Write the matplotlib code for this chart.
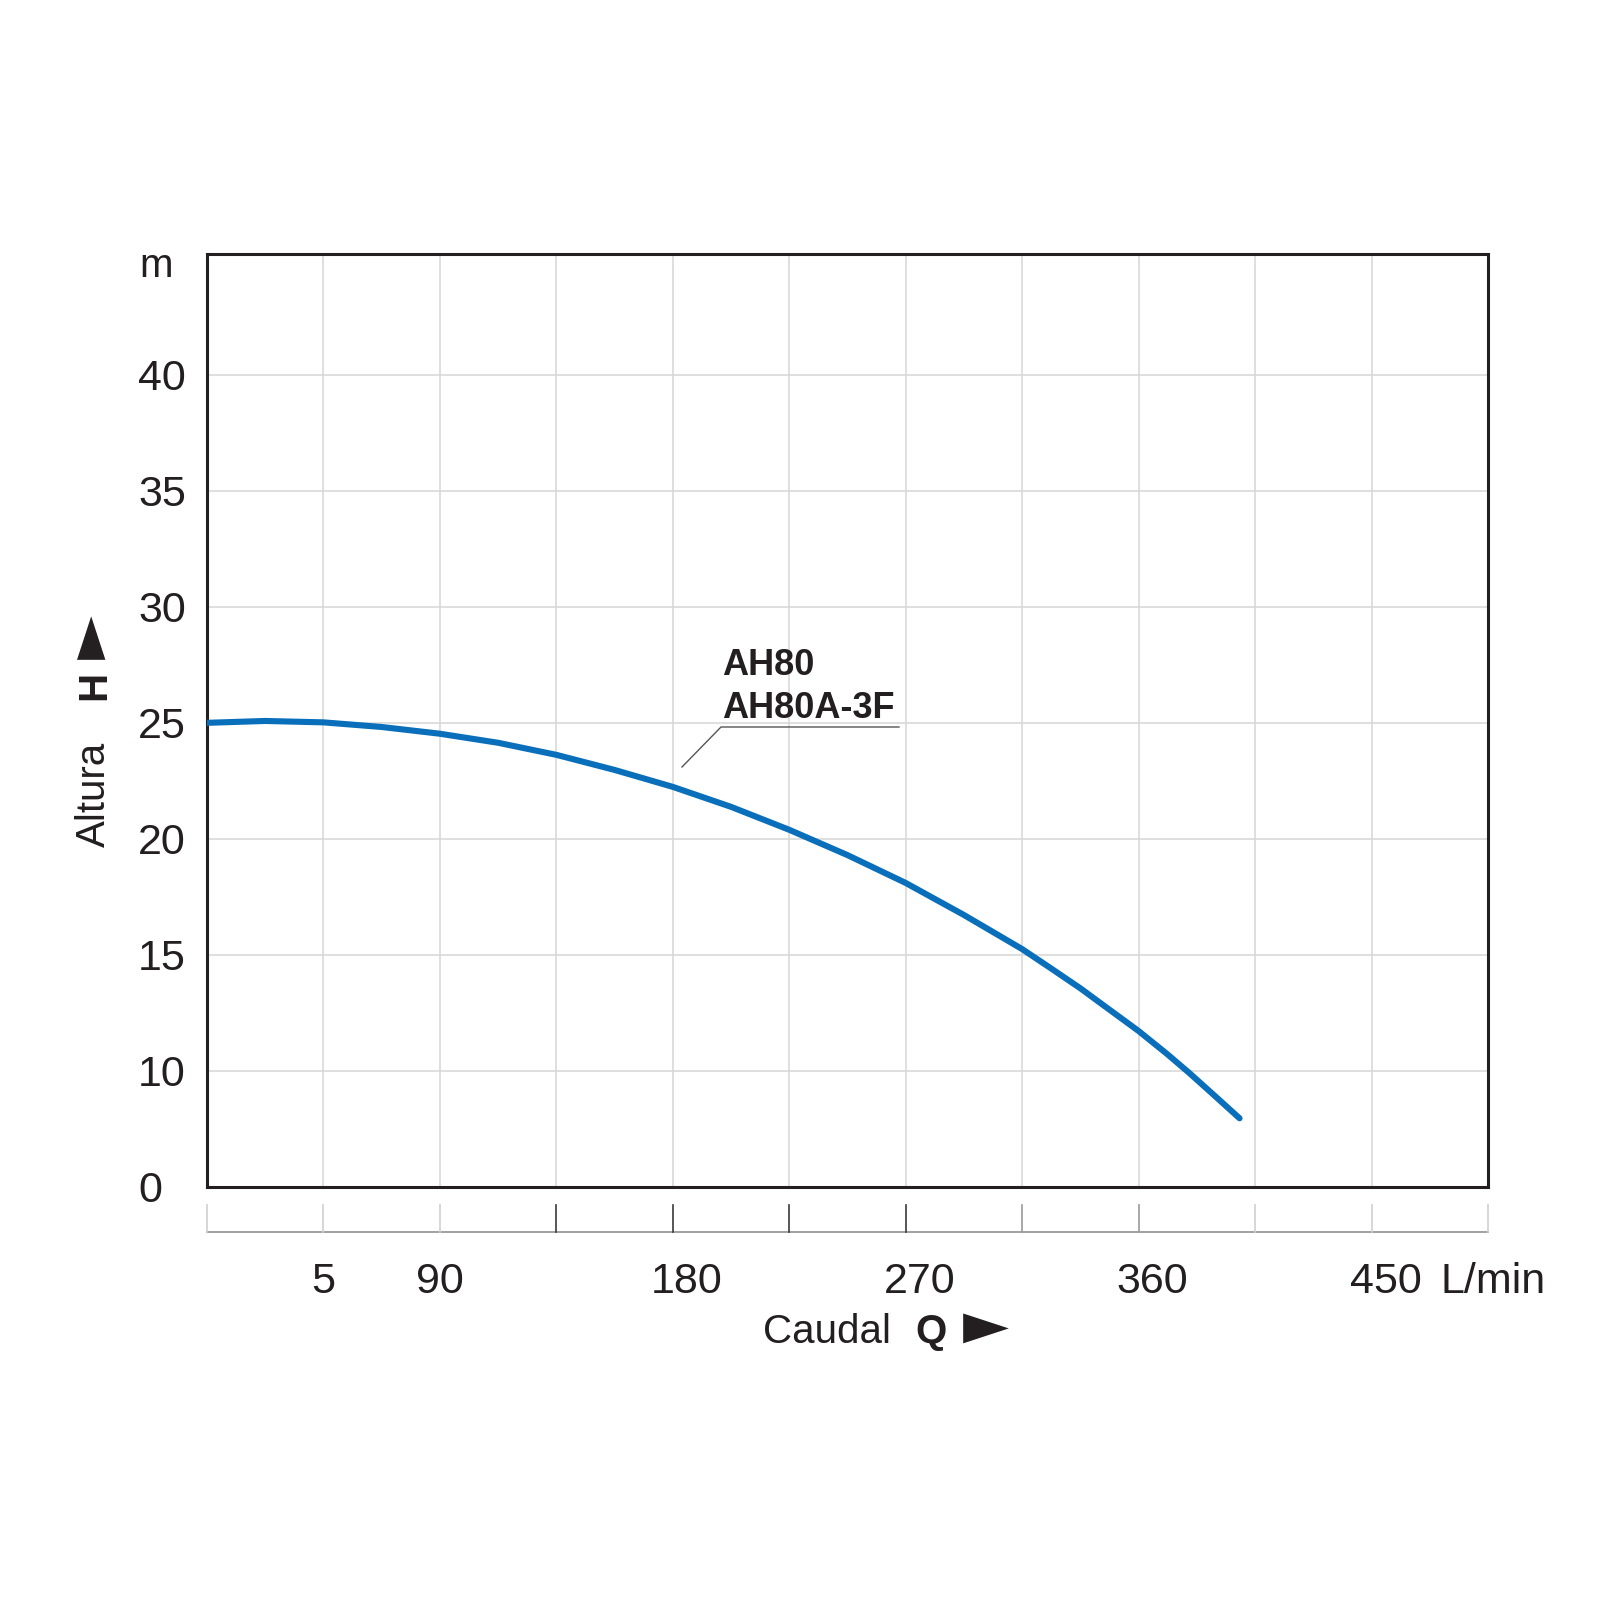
import matplotlib
matplotlib.use("Agg")
import matplotlib.pyplot as plt
import matplotlib.transforms as mtransforms
from matplotlib.lines import Line2D

# pump curve AH80 / AH80A-3F
flow = [0, 22.5, 45, 67.5, 90, 112.5, 135, 157.5, 180, 202.5, 225,
        247.5, 270, 292.5, 315, 326, 337.5, 348, 360, 371, 379.4, 389, 399]
head = [25.0, 25.08, 25.02, 24.82, 24.53, 24.14, 23.62, 22.97, 22.24, 21.38, 20.39,
        19.3, 18.1, 16.72, 15.25, 14.43, 13.56, 12.7, 11.72, 10.73, 9.93, 8.97, 7.96]

y_ticks = [5, 10, 15, 20, 25, 30, 35, 40]
y_labels = ["0", "10", "15", "20", "25", "30", "35", "40"]
x_ticks = [45, 90, 180, 270, 360, 450]
x_labels = ["5", "90", "180", "270", "360", "450"]
scale_ticks = [0, 45, 90, 135, 180, 225, 270, 315, 360, 405, 450, 495]
model_names = ["AH80", "AH80A-3F"]

SIZE = 1600
INK = "#231f20"
BLUE = "#0a6fbb"
FONT = "Liberation Sans"


def fx(px):
    # pixel x -> figure fraction
    return px / SIZE


def fy(py):
    # pixel y (from top) -> figure fraction
    return 1 - py / SIZE


plt.rcParams['font.family'] = [FONT, 'DejaVu Sans']

fig = plt.figure(figsize=(16, 16), dpi=100)
fig.patch.set_facecolor("white")

left, top, right, bottom = 207, 254, 1488, 1187
ax = fig.add_axes([fx(left), fy(bottom), (right - left) / SIZE, (bottom - top) / SIZE])
ax.set_xlim(0, 495)
ax.set_ylim(5, 45.2)

# grid
ax.set_xticks(scale_ticks[1:-1])
ax.set_xticklabels([])
ax.set_yticks(y_ticks)
ax.set_yticklabels(y_labels, fontsize=31, color=INK, ha='left')
ax.tick_params(axis='both', length=0)
ax.tick_params(axis='y', pad=(left - 138) * 0.72)
ax.grid(True, color="#d6d6d6", linewidth=1.1)
ax.set_axisbelow(True)
for sp in ax.spines.values():
    sp.set_color(INK)
    sp.set_linewidth(2.2)

# the curve
ax.plot(flow, head, color=BLUE, linewidth=4.4, solid_capstyle='round',
        solid_joinstyle='round', zorder=3)

# separate flow scale under the box
trans = mtransforms.blended_transform_factory(ax.transData, ax.transAxes)
axis_h = (bottom - 1232) / (bottom - top)
tick_h = (bottom - 1205) / (bottom - top)
ax.plot([scale_ticks[0], scale_ticks[-1]], [axis_h, axis_h], transform=trans,
        color="#9a9a9a", linewidth=1.3, clip_on=False)
dark = {135, 180, 225, 270}
mid = {315, 360}
for q in scale_ticks:
    c = "#3a3a3a" if q in dark else ("#9a9a9a" if q in mid else "#cfcfcf")
    ax.plot([q, q], [axis_h, tick_h], transform=trans, color=c,
            linewidth=1.2, clip_on=False)

label_h = (bottom - 1293) / (bottom - top)
shift = mtransforms.ScaledTranslation(14 / 100, 0, fig.dpi_scale_trans)
for q, lab in zip(x_ticks, x_labels):
    tr = trans + shift if q >= 180 else trans
    ax.text(q, label_h, lab, transform=tr, ha='center', va='baseline',
            fontsize=31, color=INK)

fig.text(fx(1441), fy(1293), "L/min", ha='left', va='baseline', fontsize=31, color=INK)
fig.text(fx(763), fy(1343), "Caudal", ha='left', va='baseline', fontsize=29, color=INK)
fig.text(fx(915), fy(1343), "Q", ha='left', va='baseline', fontsize=29,
         fontweight='bold', color=INK)
fig.text(fx(986), fy(1327), "\u25ba", ha='center', va='center', fontsize=43,
         family='DejaVu Sans', color=INK)

# y title, rotated
fig.text(fx(105), fy(847), "Altura", rotation=90, rotation_mode='anchor',
         ha='left', va='baseline', fontsize=29, color=INK)
fig.text(fx(105), fy(700), "H", rotation=90, rotation_mode='anchor',
         ha='left', va='baseline', fontsize=29, fontweight='bold', color=INK)
fig.text(fx(91), fy(637), "\u25ba", rotation=90, rotation_mode='anchor',
         ha='center', va='center', fontsize=41, family='DejaVu Sans', color=INK)
fig.text(fx(156), fy(277), "m", ha='center', va='baseline', fontsize=29, color=INK)

# model label with leader line
fig.text(fx(722), fy(675), model_names[0], ha='left', va='baseline', fontsize=26,
         fontweight='bold', color=INK)
fig.text(fx(722), fy(718), model_names[1], ha='left', va='baseline', fontsize=26,
         fontweight='bold', color=INK)
fig.add_artist(Line2D([fx(682), fx(721), fx(899)], [fy(767), fy(727), fy(727)],
                      color="#555555", linewidth=1.0))

fig.savefig("out.png", dpi=100, facecolor="white")
